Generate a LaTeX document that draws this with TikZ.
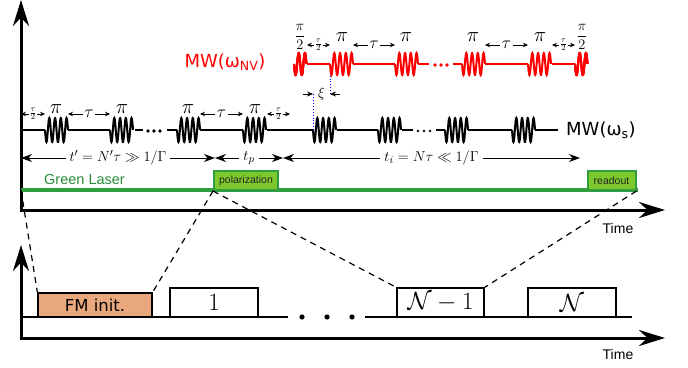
\documentclass[tikz,border=0pt]{standalone}
\usepackage{amsmath}
\usepackage{fontspec}
\usetikzlibrary{arrows.meta}
\newfontfamily\djv{DejaVu Sans}
\newfontfamily\lib{Liberation Sans}
\definecolor{lasergreen}{RGB}{46,158,64}
\definecolor{boxgreen}{RGB}{125,200,45}
\definecolor{salmonfill}{RGB}{233,167,125}
\newcommand{\mwpulse}[6]{\draw[#1] plot[variable=\t,domain=0:1,samples=80,smooth] ({#2+#4*\t},{#3+#6*sin(360*#5*\t)});}
\begin{document}
\begin{tikzpicture}[x=1pt,y=-1pt,
  axis/.style={line width=3pt,-{Stealth[length=26pt,width=16pt]}},
  wire/.style={line width=2pt,black},
  redwire/.style={line width=2pt,red},
  dimarrow/.style={line width=0.7pt,{Stealth[length=5pt,width=4.5pt]}-{Stealth[length=5pt,width=4.5pt]}},
  bigdim/.style={line width=1pt,{Stealth[length=11pt,width=8pt]}-{Stealth[length=11pt,width=8pt]}},
  lab/.style={fill=white,inner sep=1.5pt},
  pilab/.style={font=\fontsize{20}{22}\selectfont,inner sep=0pt},
  taulab/.style={lab,font=\fontsize{18}{20}\selectfont},
  halftau/.style={lab,inner sep=0.5pt,font=\fontsize{11}{13}\selectfont},
  halfpi/.style={font=\fontsize{15}{17}\selectfont,inner sep=0pt},
  tlab/.style={lab,inner sep=4pt,font=\fontsize{15.5}{18}\selectfont},
  conn/.style={line width=1.2pt,dash pattern=on 6pt off 5pt},
  greenbox/.style={draw=lasergreen,line width=2pt,fill=boxgreen,inner sep=0pt,font=\lib\fontsize{10.5}{12}\selectfont,text=black!85},
  seqbox/.style={draw,line width=1.2pt,fill=white,minimum height=29pt,minimum width=88pt,inner sep=0pt,font=\fontsize{23}{25}\selectfont},
  timelab/.style={font=\lib\fontsize{14}{16}\selectfont,inner sep=0pt}
]
\useasboundingbox (0,0) rectangle (688,367);

% ---------------- top axes ----------------
\draw[axis] (21,211.5) -- (21,0);
\draw[axis] (19.5,210) -- (665,210);
\node[timelab] (time1) at (618,228) {Time};

% ---------------- laser ----------------
\coordinate (ls) at (21,190);
\draw[line width=3.2pt,lasergreen] (ls) -- (638,190);
\node[greenbox,minimum width=64pt,minimum height=19pt] (pol) at (246,180.5) {polarization};
\node[greenbox,minimum width=48pt,minimum height=19pt] (ro) at (611.5,180.5) {readout};
\node[anchor=west,inner sep=0pt,text=lasergreen!90!black,font=\lib\fontsize{14.5}{16}\selectfont] (gl) at (44,180) {Green Laser};

% ---------------- black MW line ----------------
\foreach \a/\b in {21/45,68/110,135/143,167/177,200/243,267/313,337/378,402/413,436/445,468/512,535/558}
  \draw[wire] (\a,130) -- (\b,130);
\foreach \x in {45,110,177,243,313,378,445,512}
  \mwpulse{wire}{\x}{130}{23}{4}{12}
\foreach \x in {148,154,160} \fill (\x,131) circle (1.3pt);
\foreach \x in {418,424,430} \fill (\x,131) circle (1.3pt);
\node[anchor=west,inner sep=0pt,font=\djv\fontsize{18}{20}\selectfont] (mws) at (566,130) {MW(ω\textsubscript{s})};

% labels black line
\foreach \x in {56,122,188,255} \node[pilab] at (\x,109) {$\pi$};
\draw[dimarrow] (21,114) -- (45,114) node[midway,halftau] {$\frac{\tau}{2}$};
\draw[dimarrow] (68,114) -- (110,114) node[midway,taulab] {$\tau$};
\draw[dimarrow] (200,114) -- (243,114) node[midway,taulab] {$\tau$};
\draw[dimarrow] (267,114) -- (290,114) node[midway,halftau] {$\frac{\tau}{2}$};

% xi
\draw[blue,line width=0.9pt,dotted] (313,130) -- (313,94);
\draw[blue,line width=0.9pt,dotted] (330,64) -- (330,94);
\draw[line width=0.7pt,-{Stealth[length=6pt,width=5pt]}] (303,94) -- (313,94);
\draw[line width=0.7pt,-{Stealth[length=6pt,width=5pt]}] (340,94) -- (330,94);
\node[font=\fontsize{15}{17}\selectfont,inner sep=0pt] (xi) at (321.5,94) {$\xi$};

% ---------------- red MW line ----------------
\foreach \a/\b in {307/330,353/395,418/429,453/462,485/528,552/575}
  \draw[redwire] (\a,64) -- (\b,64);
\foreach \x in {330,395,462,528}
  \mwpulse{redwire}{\x}{64}{23}{4}{11}
\foreach \x in {294,575}
  \mwpulse{redwire}{\x}{64}{12.5}{2}{11}
\foreach \x in {435,441,447} \fill[red] (\x,65) circle (1.3pt);
\node[red,inner sep=0pt,font=\djv\fontsize{18}{20}\selectfont] (mwnv) at (225,62) {MW(ω\textsubscript{NV})};

\node[halfpi] at (300,37) {$\dfrac{\pi}{2}$};
\node[halfpi] at (582,37) {$\dfrac{\pi}{2}$};
\foreach \x in {342,406,473,540} \node[pilab] at (\x,37) {$\pi$};
\draw[dimarrow] (307,45) -- (330,45) node[midway,halftau] {$\frac{\tau}{2}$};
\draw[dimarrow] (353,45) -- (395,45) node[midway,taulab] {$\tau$};
\draw[dimarrow] (485,45) -- (528,45) node[midway,taulab] {$\tau$};
\draw[dimarrow] (552,45) -- (575,45) node[midway,halftau] {$\frac{\tau}{2}$};

% ---------------- time intervals ----------------
\draw[bigdim] (21,158) -- (215,158) node[midway,tlab] {$t' = N'\tau \gg 1/\Gamma$};
\draw[bigdim] (215,158) -- (283,158) node[midway,tlab] {$t_p$};
\draw[bigdim] (283,158) -- (580,158) node[midway,tlab] {$t_i = N\tau \ll 1/\Gamma$};

% ---------------- bottom axes ----------------
\draw[axis] (21,339.5) -- (21,245);
\draw[axis] (19.5,338) -- (665,338);
\node[timelab] (time2) at (618,354) {Time};

\draw[line width=1.2pt] (21,317) -- (288,317);
\draw[line width=1.2pt] (365,317) -- (632,317);
\foreach \x in {302,327,352} \fill (\x,317) circle (2.6pt);

\node[draw,line width=1.2pt,fill=salmonfill,minimum width=114pt,minimum height=24pt,inner sep=0pt,font=\djv\fontsize{16.5}{18}\selectfont] (fm) at (95,305) {FM init.};
\node[seqbox] (b1) at (214,302.5) {$1$};
\node[seqbox,minimum width=87pt] (bn1) at (440.5,302.5) {$\mathcal{N}-1$};
\node[seqbox] (bn) at (572,302.5) {$\mathcal{N}$};

% ---------------- dashed connectors ----------------
\draw[conn] (ls) -- (fm.north west);
\draw[conn] (pol.south west) -- (fm.north east);
\draw[conn] (pol.south west) -- (bn1.north west);
\draw[conn] (ro.south east) -- (bn1.north east);
\end{tikzpicture}
\end{document}
